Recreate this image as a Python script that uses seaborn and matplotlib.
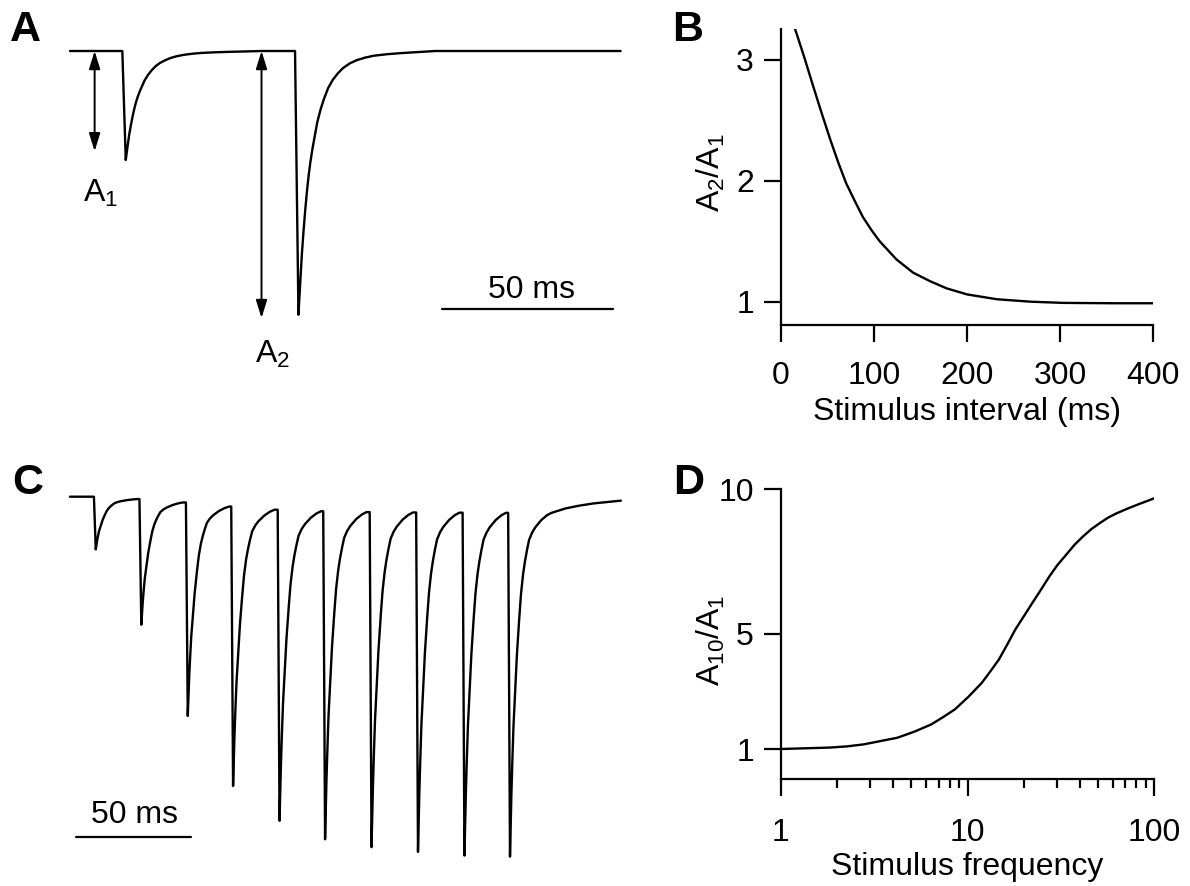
import matplotlib
matplotlib.use("Agg")
import matplotlib.pyplot as plt
import seaborn as sns
from matplotlib.ticker import LogLocator, NullFormatter, FixedLocator, FixedFormatter

# ---------------- data ----------------
# A: paired pulse trace; time in ms, depth in units of A1
a_onsets = [15.3, 65.8]
a_peaks = [1.0, 2.42]
a_rise = 1.0
a_end = 161.0
a_decay_t = [0, 0.3, 0.6, 1, 1.5, 2, 2.5, 3, 3.5, 4.1, 4.8, 5.5, 6.5, 7.5, 8.7,
             10, 11.5, 13, 15, 17, 19.5, 22, 26, 30, 35, 40]
a_decay_f = [1, 0.93, 0.86, 0.77, 0.68, 0.6, 0.53, 0.47, 0.42, 0.37, 0.32, 0.27,
             0.22, 0.18, 0.14, 0.11, 0.085, 0.065, 0.047, 0.035, 0.025, 0.018,
             0.012, 0.008, 0.004, 0.0]
a_arrow_t = [7.2, 56.0]
a_arrow_depth = [0.92, 2.45]
a_labels = ["$\\mathregular{A_1}$", "$\\mathregular{A_2}$"]

# B: paired pulse ratio vs interval
interval_ms = [15, 24.7, 34.7, 43.7, 53, 61.6, 70, 79.5, 88, 97.4, 106, 124, 142,
               160, 178, 200, 232, 268, 303, 357, 400]
ppr = [3.26, 3.03, 2.78, 2.56, 2.34, 2.15, 1.98, 1.83, 1.70, 1.59, 1.50, 1.35,
       1.24, 1.17, 1.11, 1.06, 1.02, 1.0, 0.99, 0.987, 0.987]

# C: train of 10 stimuli; time in ms, depth in units of first response
c_onsets = [10.4, 30.2, 50.4, 70.1, 90.3, 110.1, 130.3, 150.5, 170.7, 190.5]
c_peaks = [1.0, 2.43, 4.16, 5.49, 6.15, 6.50, 6.65, 6.74, 6.81, 6.83]
c_rise = 0.8
c_end = 239.5
c_decay_t = [0, 0.3, 0.6, 1, 1.5, 2.2, 3, 4, 4.8, 5.7, 6.5, 7.4, 8.3, 9.6, 11,
             13.6, 16, 18, 24.2, 30, 36.4, 48.2]
c_decay_f = [1, 0.91, 0.83, 0.74, 0.64, 0.546, 0.44, 0.34, 0.269, 0.215, 0.18,
             0.148, 0.12, 0.1, 0.085, 0.065, 0.052, 0.045, 0.0325, 0.025, 0.0186,
             0.011]

# D: A10/A1 vs stimulus frequency
freq_hz = [1.0, 1.83, 2.25, 2.77, 4.2, 5.18, 6.37, 7.37, 8.53, 10.1, 11.9, 13.2,
           14.7, 16.3, 18.0, 20.0, 22.2, 24.7, 27.4, 30.3, 33.7, 37.4, 41.4, 46.0,
           51.1, 56.6, 62.9, 71.2, 80.7, 100]
ratio10 = [1.0, 1.05, 1.09, 1.16, 1.39, 1.60, 1.85, 2.10, 2.37, 2.81, 3.29, 3.68,
           4.10, 4.62, 5.14, 5.60, 6.06, 6.52, 6.98, 7.38, 7.73, 8.08, 8.36, 8.62,
           8.83, 9.02, 9.17, 9.32, 9.46, 9.69]

scale_ms = 50

# ---------------- style ----------------
sns.set_style("ticks")
plt.rcParams["font.family"] = ["Liberation Sans", "DejaVu Sans"]
plt.rcParams["mathtext.fontset"] = "custom"
plt.rcParams["mathtext.rm"] = "Liberation Sans"
plt.rcParams["mathtext.it"] = "Liberation Sans:italic"
plt.rcParams["mathtext.bf"] = "Liberation Sans:bold"
for k in ("text.color", "axes.labelcolor", "xtick.color", "ytick.color", "axes.edgecolor"):
    plt.rcParams[k] = "black"
FS = 23
LW = 1.6

W, H = 1190, 886
fig = plt.figure(figsize=(W / 100, H / 100), dpi=100)


def px_axes(left, top, right, bottom):
    return fig.add_axes([left / W, 1 - bottom / H, (right - left) / W, (bottom - top) / H])


def build_trace(onsets, peaks, rise, end, kt, kf):
    t, y = [0.0], [0.0]
    for i, (on, pk) in enumerate(zip(onsets, peaks)):
        stop = onsets[i + 1] if i + 1 < len(onsets) else end
        t.append(on)
        y.append(y[-1])
        tp = on + rise
        for dt, f in zip(kt, kf):
            if tp + dt > stop:
                break
            t.append(tp + dt)
            y.append(-pk * f)
    if t[-1] < end:
        t.append(end)
        y.append(y[-1])
    return t, y


def trace_axes(left, top, right, bottom, t0_px, px_ms, base_px, px_unit):
    ax = px_axes(left, top, right, bottom)
    ax.set_xlim((left - t0_px) / px_ms, (right - t0_px) / px_ms)
    ax.set_ylim(-(bottom - base_px) / px_unit, (base_px - top) / px_unit)
    ax.set_axis_off()
    return ax


def style_xy(ax):
    sns.despine(ax=ax)
    for s in ("left", "bottom"):
        ax.spines[s].set_linewidth(LW)
        ax.spines[s].set_color("black")
    ax.tick_params(which="major", length=12.5, width=LW, color="black",
                   labelsize=FS, labelcolor="black", direction="out")
    ax.tick_params(which="minor", length=6.5, width=LW, color="black", direction="out")
    ax.tick_params(axis="y", pad=7)


# ---------------- A ----------------
axA = trace_axes(60, 0, 640, 440, 70, 3.42, 51, 109)
ta, ya = build_trace(a_onsets, a_peaks, a_rise, a_end, a_decay_t, a_decay_f)
sns.lineplot(x=ta, y=ya, ax=axA, color="black", lw=1.7, estimator=None, sort=False)
for t, d in zip(a_arrow_t, a_arrow_depth):
    axA.annotate("", xy=(t, -d), xytext=(t, 0),
                 arrowprops=dict(arrowstyle="<|-|>,head_length=0.9,head_width=0.28",
                                 color="black", lw=1.4, shrinkA=0, shrinkB=0,
                                 mutation_scale=12))
axA.text(8.8, -1.385, a_labels[0], fontsize=FS, ha="center", va="baseline")
axA.text(59.1, -2.865, a_labels[1], fontsize=FS, ha="center", va="baseline")
axA.plot([108.7, 108.7 + scale_ms], [-2.37, -2.37], color="black", lw=1.6)
axA.text(134.9, -2.266, f"{scale_ms} ms", fontsize=FS, ha="center", va="baseline")

# ---------------- B ----------------
axB = px_axes(781, 29.3, 1153.3, 325)
sns.lineplot(x=interval_ms, y=ppr, ax=axB, color="black", lw=1.7, estimator=None)
axB.set_xlim(0, 400)
axB.set_ylim(0.807, 3.254)
axB.set_xticks([0, 100, 200, 300, 400])
axB.set_yticks([1, 2, 3])
style_xy(axB)
axB.tick_params(axis="x", pad=13.5)
axB.set_xlabel("Stimulus interval (ms)", fontsize=FS)
axB.set_ylabel("$\\mathregular{A_2/A_1}$", fontsize=FS)
axB.xaxis.set_label_coords(0.5, -0.2425)
axB.yaxis.set_label_coords(-0.145, 0.517)

# ---------------- C ----------------
axC = trace_axes(60, 450, 640, 886, 70, 2.3, 496.7, 52.7)
tc, yc = build_trace(c_onsets, c_peaks, c_rise, c_end, c_decay_t, c_decay_f)
sns.lineplot(x=tc, y=yc, ax=axC, color="black", lw=1.7, estimator=None, sort=False)
axC.plot([2.4, 2.4 + scale_ms], [-6.45, -6.45], color="black", lw=1.6)
axC.text(28.0, -6.197, f"{scale_ms} ms", fontsize=FS, ha="center", va="baseline")

# ---------------- D ----------------
axD = px_axes(781, 489.3, 1154.3, 779.3)
sns.lineplot(x=freq_hz, y=ratio10, ax=axD, color="black", lw=1.7, estimator=None)
axD.set_xscale("log")
axD.set_xlim(1, 100)
axD.set_ylim(-0.05, 10)
axD.set_yticks([1, 5, 10])
axD.xaxis.set_major_locator(FixedLocator([1, 10, 100]))
axD.xaxis.set_major_formatter(FixedFormatter(["1", "10", "100"]))
axD.xaxis.set_minor_locator(LogLocator(base=10, subs=range(2, 10)))
axD.xaxis.set_minor_formatter(NullFormatter())
style_xy(axD)
axD.tick_params(axis="x", pad=15.5)
axD.set_xlabel("Stimulus frequency", fontsize=FS)
axD.set_ylabel("$\\mathregular{A_{10}/A_1}$", fontsize=FS)
axD.xaxis.set_label_coords(0.5, -0.25)
axD.yaxis.set_label_coords(-0.145, 0.48)

# panel letters
for lab, x, y in [("A", 10, 10), ("B", 672, 10), ("C", 12, 463), ("D", 673, 463)]:
    fig.text(x / W, 1 - y / H, lab, fontsize=31, fontweight="bold", ha="left", va="top")

fig.savefig("out.png", dpi=100)
